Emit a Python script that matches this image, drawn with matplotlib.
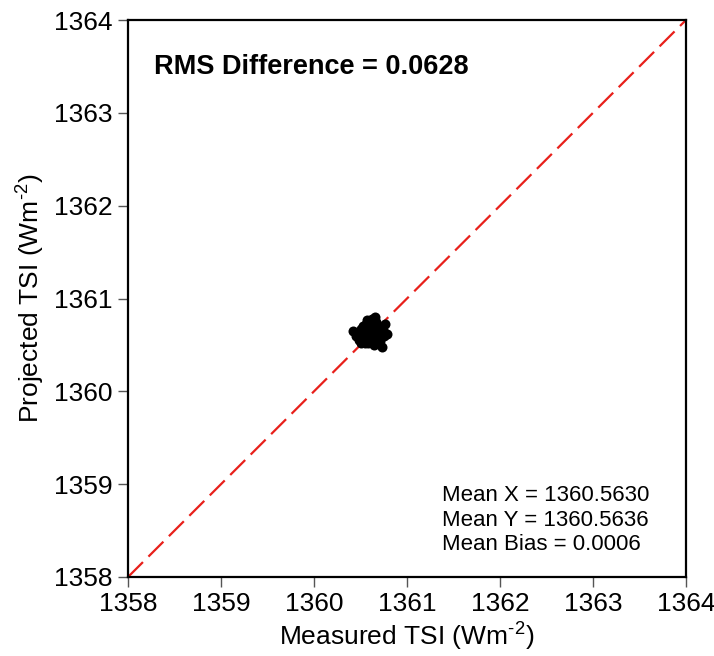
import matplotlib
matplotlib.use("Agg")
import matplotlib.pyplot as plt

measured = [1360.42, 1360.45, 1360.48, 1360.50, 1360.52, 1360.53, 1360.55, 1360.56, 1360.57, 1360.58,
            1360.59, 1360.60, 1360.61, 1360.62, 1360.63, 1360.64, 1360.65, 1360.66, 1360.67, 1360.68,
            1360.70, 1360.72, 1360.74, 1360.76, 1360.78, 1360.50, 1360.54, 1360.58, 1360.62, 1360.66,
            1360.70, 1360.56, 1360.60, 1360.64, 1360.68, 1360.73, 1360.53, 1360.61, 1360.69, 1360.59,
            1360.47, 1360.51, 1360.55, 1360.63, 1360.67, 1360.71, 1360.75, 1360.57, 1360.65, 1360.52]
projected = [1360.65, 1360.60, 1360.55, 1360.63, 1360.58, 1360.70, 1360.52, 1360.66, 1360.60, 1360.74,
             1360.55, 1360.68, 1360.63, 1360.78, 1360.58, 1360.71, 1360.66, 1360.60, 1360.75, 1360.63,
             1360.69, 1360.58, 1360.66, 1360.72, 1360.62, 1360.52, 1360.62, 1360.52, 1360.56, 1360.80,
             1360.61, 1360.73, 1360.62, 1360.55, 1360.57, 1360.48, 1360.66, 1360.72, 1360.68, 1360.64,
             1360.62, 1360.67, 1360.61, 1360.53, 1360.70, 1360.54, 1360.60, 1360.77, 1360.50, 1360.57]

ticks = [1358, 1359, 1360, 1361, 1362, 1363, 1364]
rms_text = "RMS Difference = 0.0628"
stats_text = "Mean X = 1360.5630\nMean Y = 1360.5636\nMean Bias = 0.0006"

plt.rcParams['font.family'] = ['Liberation Sans', 'DejaVu Sans']
plt.rcParams['mathtext.fontset'] = 'custom'
plt.rcParams['mathtext.rm'] = 'Liberation Sans'
fig = plt.figure(figsize=(7.14, 6.56), dpi=100)
ax = fig.add_axes([128/714, 1-577/656, (686-128)/714, (577-20)/656])

ax.plot([1358, 1364], [1358, 1364], color='#e8201b', lw=1.6, dashes=(9.5, 3.5), zorder=1)
ax.scatter(measured, projected, s=52, color='black', zorder=2, linewidths=0)

ax.set_xlim(1358, 1364)
ax.set_ylim(1358, 1364)
ax.set_xticks(ticks)
ax.set_yticks(ticks)
ax.tick_params(direction='out', length=7, width=1.0, color='#555555', labelsize=19, pad=4)
for s in ax.spines.values():
    s.set_linewidth(1.6)
ax.set_xlabel("Measured TSI (Wm$^{\\text{-2}}$)", fontsize=19, labelpad=2)
ax.set_ylabel("Projected TSI (Wm$^{\\text{-2}}$)", fontsize=19, labelpad=6)

ax.text(0.047, 0.915, rms_text, transform=ax.transAxes, fontsize=19.5, fontweight='bold', va='center')
ax.text(0.563, 0.04, stats_text, transform=ax.transAxes, fontsize=16, va='bottom', linespacing=1.2)

fig.savefig("out.png", dpi=100)
